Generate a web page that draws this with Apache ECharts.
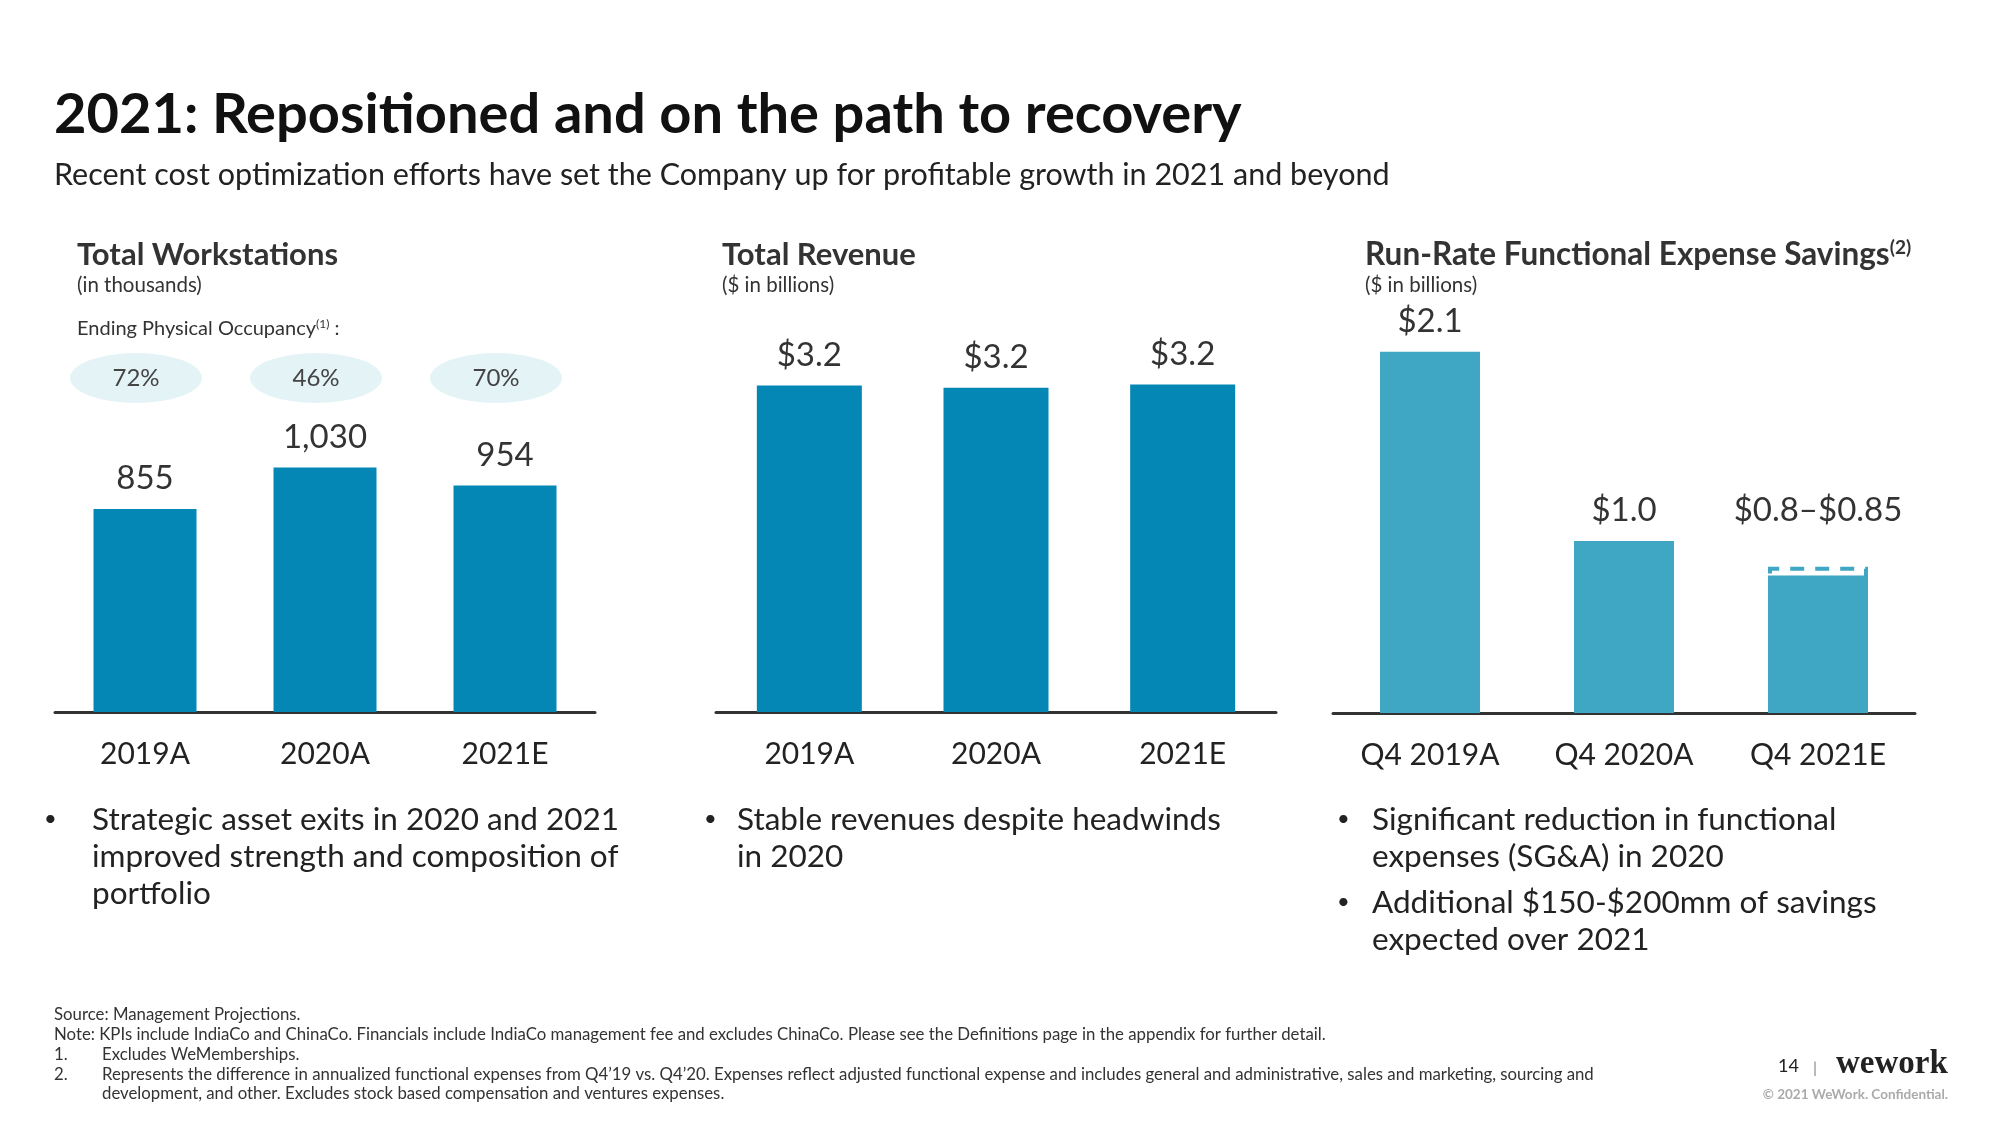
<!DOCTYPE html>
<html>
<head>
<meta charset="utf-8">
<script src="https://cdn.jsdelivr.net/npm/echarts@6/dist/echarts.min.js"></script>
<style>
html,body{margin:0;padding:0;background:#fff;}
#c{width:2000px;height:1125px;}
</style>
</head>
<body>
<div id="c"></div>
<script>
// ---- data ----
const wsCategories = ['2019A', '2020A', '2021E'];
const workstations = [855, 1030, 954];          // thousands
const occupancy = [72, 46, 70];                 // %
const revCategories = ['2019A', '2020A', '2021E'];
const revenue = [3.2, 3.18, 3.21];              // $bn
const savCategories = ['Q4 2019A', 'Q4 2020A', 'Q4 2021E'];
const savingsLow = [2.1, 1.0, 0.8];             // $bn
const savingsHigh = [null, null, 0.85];         // $bn (range top)

const FONT = 'Lato, "Open Sans", sans-serif';
const DARK = '#0487b4';
const LIGHT = '#3fa6c4';
const TXT = '#333';

const chart = echarts.init(document.getElementById('c'), null, {renderer: 'canvas'});

const graphics = [];
function T(x, y, text, size, weight, fill, extra) {
  graphics.push({
    type: 'text', x: x, y: y,
    style: Object.assign({
      text: text, fontFamily: FONT, fontSize: size, fontWeight: weight || 'normal',
      fill: fill || TXT, verticalAlign: 'middle', align: 'left'
    }, extra || {})
  });
}

// Title
T(54, 115, '2021: Repositioned and on the path to recovery', 56, 'bold', '#111');
T(54, 175, 'Recent cost optimization efforts have set the Company up for profitable growth in 2021 and beyond', 30.5, 'normal', '#222');

// Panel headings
T(77, 255, 'Total Workstations', 31, 'bold', '#333');
T(77, 285, '(in thousands)', 20.5, 'normal', '#333');
graphics.push({
  type: 'text', x: 77, y: 329,
  style: {
    text: 'Ending Physical Occupancy{s|(1)} :', fontFamily: FONT, fontSize: 20, fill: '#333', verticalAlign: 'middle',
    rich: {s: {fontSize: 12, verticalAlign: 'top', padding: [0, 0, 9, 0], fontFamily: FONT, fill: '#333'}}
  }
});
T(722, 255, 'Total Revenue', 31, 'bold', '#333');
T(722, 285, '($ in billions)', 20.5, 'normal', '#333');
graphics.push({
  type: 'text', x: 1365, y: 255,
  style: {
    text: 'Run-Rate Functional Expense Savings{s|(2)}', fontFamily: FONT, fontSize: 31.5, fontWeight: 'bold', fill: '#333', verticalAlign: 'middle',
    rich: {s: {fontSize: 19, fontWeight: 'bold', fontFamily: FONT, fill: '#333', padding: [0, 0, 14, 0]}}
  }
});
T(1365, 285, '($ in billions)', 20.5, 'normal', '#333');

// Bullets
function bullet(dotX, textX, y, text) {
  T(dotX, y, '•', 22, 'normal', '#222');
  T(textX, y - 18, text, 31.5, 'normal', '#222', {verticalAlign: 'top', lineHeight: 37});
}
bullet(44, 92, 819, 'Strategic asset exits in 2020 and 2021\nimproved strength and composition of\nportfolio');
bullet(704, 737, 819, 'Stable revenues despite headwinds\nin 2020');
bullet(1337, 1372, 819, 'Significant reduction in functional\nexpenses (SG&A) in 2020');
bullet(1337, 1372, 902, 'Additional $150-$200mm of savings\nexpected over 2021');

// Footnotes
const FN = 16.8;
T(54, 1015, 'Source: Management Projections.', FN, 'normal', '#333');
T(54, 1035, 'Note: KPIs include IndiaCo and ChinaCo. Financials include IndiaCo management fee and excludes ChinaCo. Please see the Definitions page in the appendix for further detail.', FN, 'normal', '#333');
T(54, 1055, '1.', FN, 'normal', '#333');
T(102, 1055, 'Excludes WeMemberships.', FN, 'normal', '#333');
T(54, 1075, '2.', FN, 'normal', '#333');
T(102, 1075, 'Represents the difference in annualized functional expenses from Q4\u201919 vs. Q4\u201920. Expenses reflect adjusted functional expense and includes general and administrative, sales and marketing, sourcing and', FN, 'normal', '#333');
T(102, 1094, 'development, and other. Excludes stock based compensation and ventures expenses.', FN, 'normal', '#333');

// Page footer
T(1778, 1066, '14', 18, 'normal', '#222');
T(1813, 1068, '|', 16, 'normal', '#888');
graphics.push({type: 'text', x: 1836, y: 1064, style: {text: 'wework', fontFamily: '"Liberation Serif", "DejaVu Serif", serif', fontSize: 33, fontWeight: 'bold', fill: '#222', verticalAlign: 'middle'}});
graphics.push({type: 'text', x: 1948, y: 1095, style: {text: '\u00A9 2021 WeWork. Confidential.', fontFamily: FONT, fontSize: 13.5, fontWeight: 'bold', fill: '#aaa', verticalAlign: 'middle', align: 'right'}});

const catAxis = (gi, data) => ({
  type: 'category', gridIndex: gi, data: data,
  axisLine: {show: true, lineStyle: {color: '#333', width: 3}},
  axisTick: {show: false},
  axisLabel: {fontFamily: FONT, fontSize: 30, color: '#222', margin: 27}
});
const valAxis = (gi, max, min) => ({
  type: 'value', gridIndex: gi, min: min || 0, max: max, show: false, splitLine: {show: false}
});
const barLabel = (fmt, dist) => ({
  show: true, position: 'top', distance: dist, fontFamily: FONT, fontSize: 33, color: '#333', formatter: fmt
});

chart.setOption({
  animation: false,
  backgroundColor: '#fff',
  grid: [
    {left: 55, width: 540, top: 427, height: 285},
    {left: 716, width: 560, top: 304, height: 408},
    {left: 1333, width: 582, top: 283, height: 430},
    {left: 46, width: 540, top: 353, height: 50}
  ],
  xAxis: [
    catAxis(0, wsCategories),
    catAxis(1, revCategories),
    catAxis(2, savCategories),
    {type: 'category', gridIndex: 3, data: wsCategories, show: false}
  ],
  yAxis: [valAxis(0, 1200), valAxis(1, 4), valAxis(2, 2.5), valAxis(3, 1, -1)],
  series: [
    {
      type: 'bar', xAxisIndex: 0, yAxisIndex: 0, data: workstations, barWidth: 103,
      itemStyle: {color: DARK},
      label: barLabel(p => p.value.toLocaleString('en-US'), 14)
    },
    {
      type: 'bar', xAxisIndex: 1, yAxisIndex: 1, data: revenue, barWidth: 105,
      itemStyle: {color: DARK},
      label: barLabel(p => '$' + p.value.toFixed(1), 14)
    },
    {
      type: 'bar', xAxisIndex: 2, yAxisIndex: 2, barWidth: 100, z: 1,
      data: savingsHigh.map(v => v == null ? '-' : v),
      itemStyle: {color: 'rgba(0,0,0,0)', borderColor: LIGHT, borderWidth: 4, borderType: [14, 11]},
      label: barLabel(p => '$' + savingsLow[p.dataIndex].toFixed(1) + '\u2013$' + savingsHigh[p.dataIndex].toFixed(2), 40)
    },
    {
      type: 'bar', xAxisIndex: 2, yAxisIndex: 2, barWidth: 100, barGap: '-100%', z: 3,
      data: savingsLow,
      itemStyle: {color: LIGHT},
      label: barLabel(p => savingsHigh[p.dataIndex] == null ? '$' + p.value.toFixed(1) : '', 14)
    },
    {
      type: 'scatter', xAxisIndex: 3, yAxisIndex: 3, symbol: 'circle', symbolSize: [132, 50],
      data: occupancy.map((v, i) => [i, 0]),
      itemStyle: {color: '#e3f3f6', opacity: 1},
      label: {show: true, position: 'inside', fontFamily: FONT, fontSize: 24, color: '#444',
        formatter: p => occupancy[p.dataIndex] + '%'}
    }
  ],
  graphic: graphics
});
</script>
</body>
</html>
